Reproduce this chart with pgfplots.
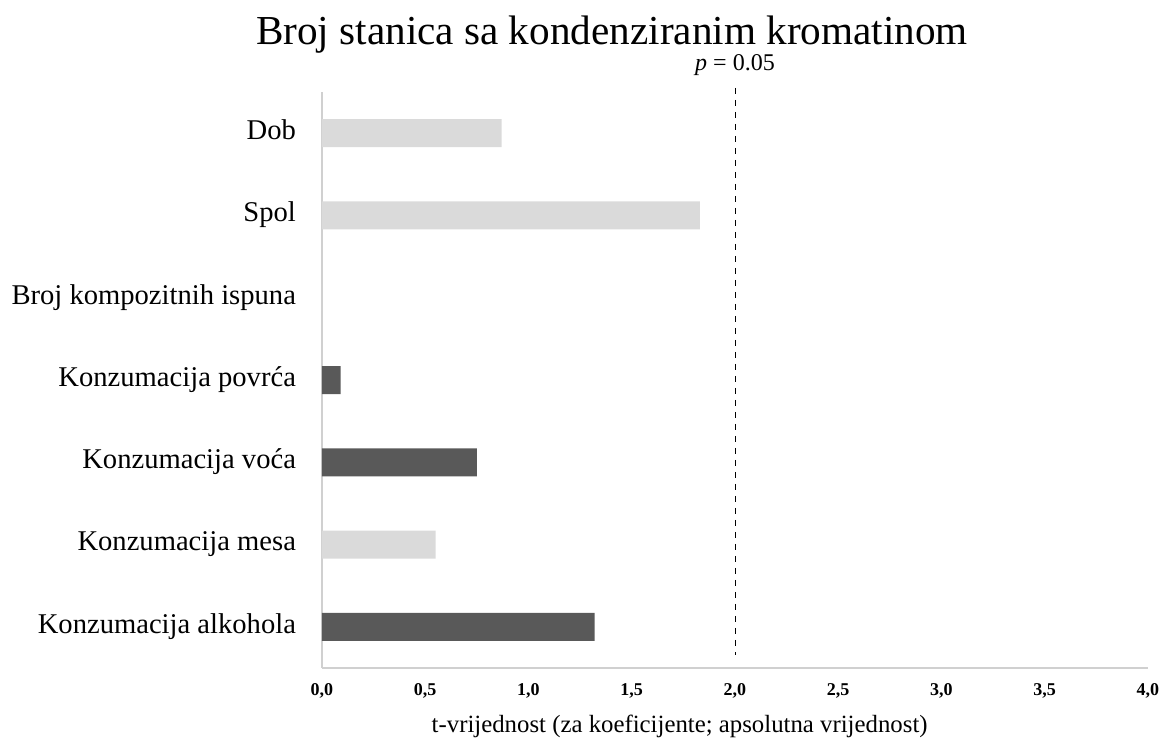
\documentclass[border=0pt]{standalone}
\usepackage{fontspec}
\setmainfont{Liberation Serif}
\usepackage{pgfplots}
\pgfplotsset{compat=1.18}

\definecolor{lightbar}{HTML}{DADADA}
\definecolor{darkbar}{HTML}{595959}
\definecolor{axisgray}{HTML}{D0D0D0}

\begin{document}
\begin{tikzpicture}
\begin{axis}[
  scale only axis,
  width=413pt, height=288pt,
  xbar, bar width=0.34, bar shift=0pt,
  xmin=0, xmax=4, ymin=-0.5, ymax=6.5,
  y dir=reverse,
  axis x line*=bottom, axis y line*=left,
  axis line style={axisgray, line width=0.8pt, -},
  xtick={0,0.5,...,4}, ytick={0,...,6},
  major tick length=0pt,
  yticklabels={Dob, Spol, Broj kompozitnih ispuna, Konzumacija povrća,
    Konzumacija voća, Konzumacija mesa, Konzumacija alkohola},
  /pgf/number format/.cd, fixed, fixed zerofill, precision=1, use comma,
    assume math mode=true, /pgfplots/.cd,
  typeset ticklabels with strut,
  xticklabel style={font=\bfseries\fontsize{9}{10}\selectfont, yshift=-3pt},
  yticklabel style={font=\fontsize{14.3}{16}\selectfont, xshift=-9.5pt},
  xlabel={t-vrijednost (za koeficijente; apsolutna vrijednost)},
  xlabel style={font=\fontsize{12.4}{14}\selectfont,
    at={(axis description cs:0.433,0)}, anchor=base, yshift=-32pt},
  title={Broj stanica sa kondenziranim kromatinom},
  title style={font=\fontsize{20.6}{23}\selectfont,
    at={(axis description cs:0.351,1.0608)}, anchor=base, yshift=0pt},
  clip=false,
]
\addplot[fill=lightbar, draw=none] coordinates {(0.87,0) (1.83,1) (0,2) (0.55,5)};
\addplot[fill=darkbar, draw=none] coordinates {(0.09,3) (0.75,4) (1.32,6)};
\addplot[xbar=false, black, dashed, thin, sharp plot] coordinates {(2,-0.55) (2,6.34)}
  node[pos=0, anchor=base, yshift=8.5pt, font=\fontsize{12}{14}\selectfont] {\textit{p} = 0.05};
\end{axis}
\pgfresetboundingbox
\path[use as bounding box] (-161pt,-36pt) rectangle (422.5pt,334pt);
\end{tikzpicture}
\end{document}
